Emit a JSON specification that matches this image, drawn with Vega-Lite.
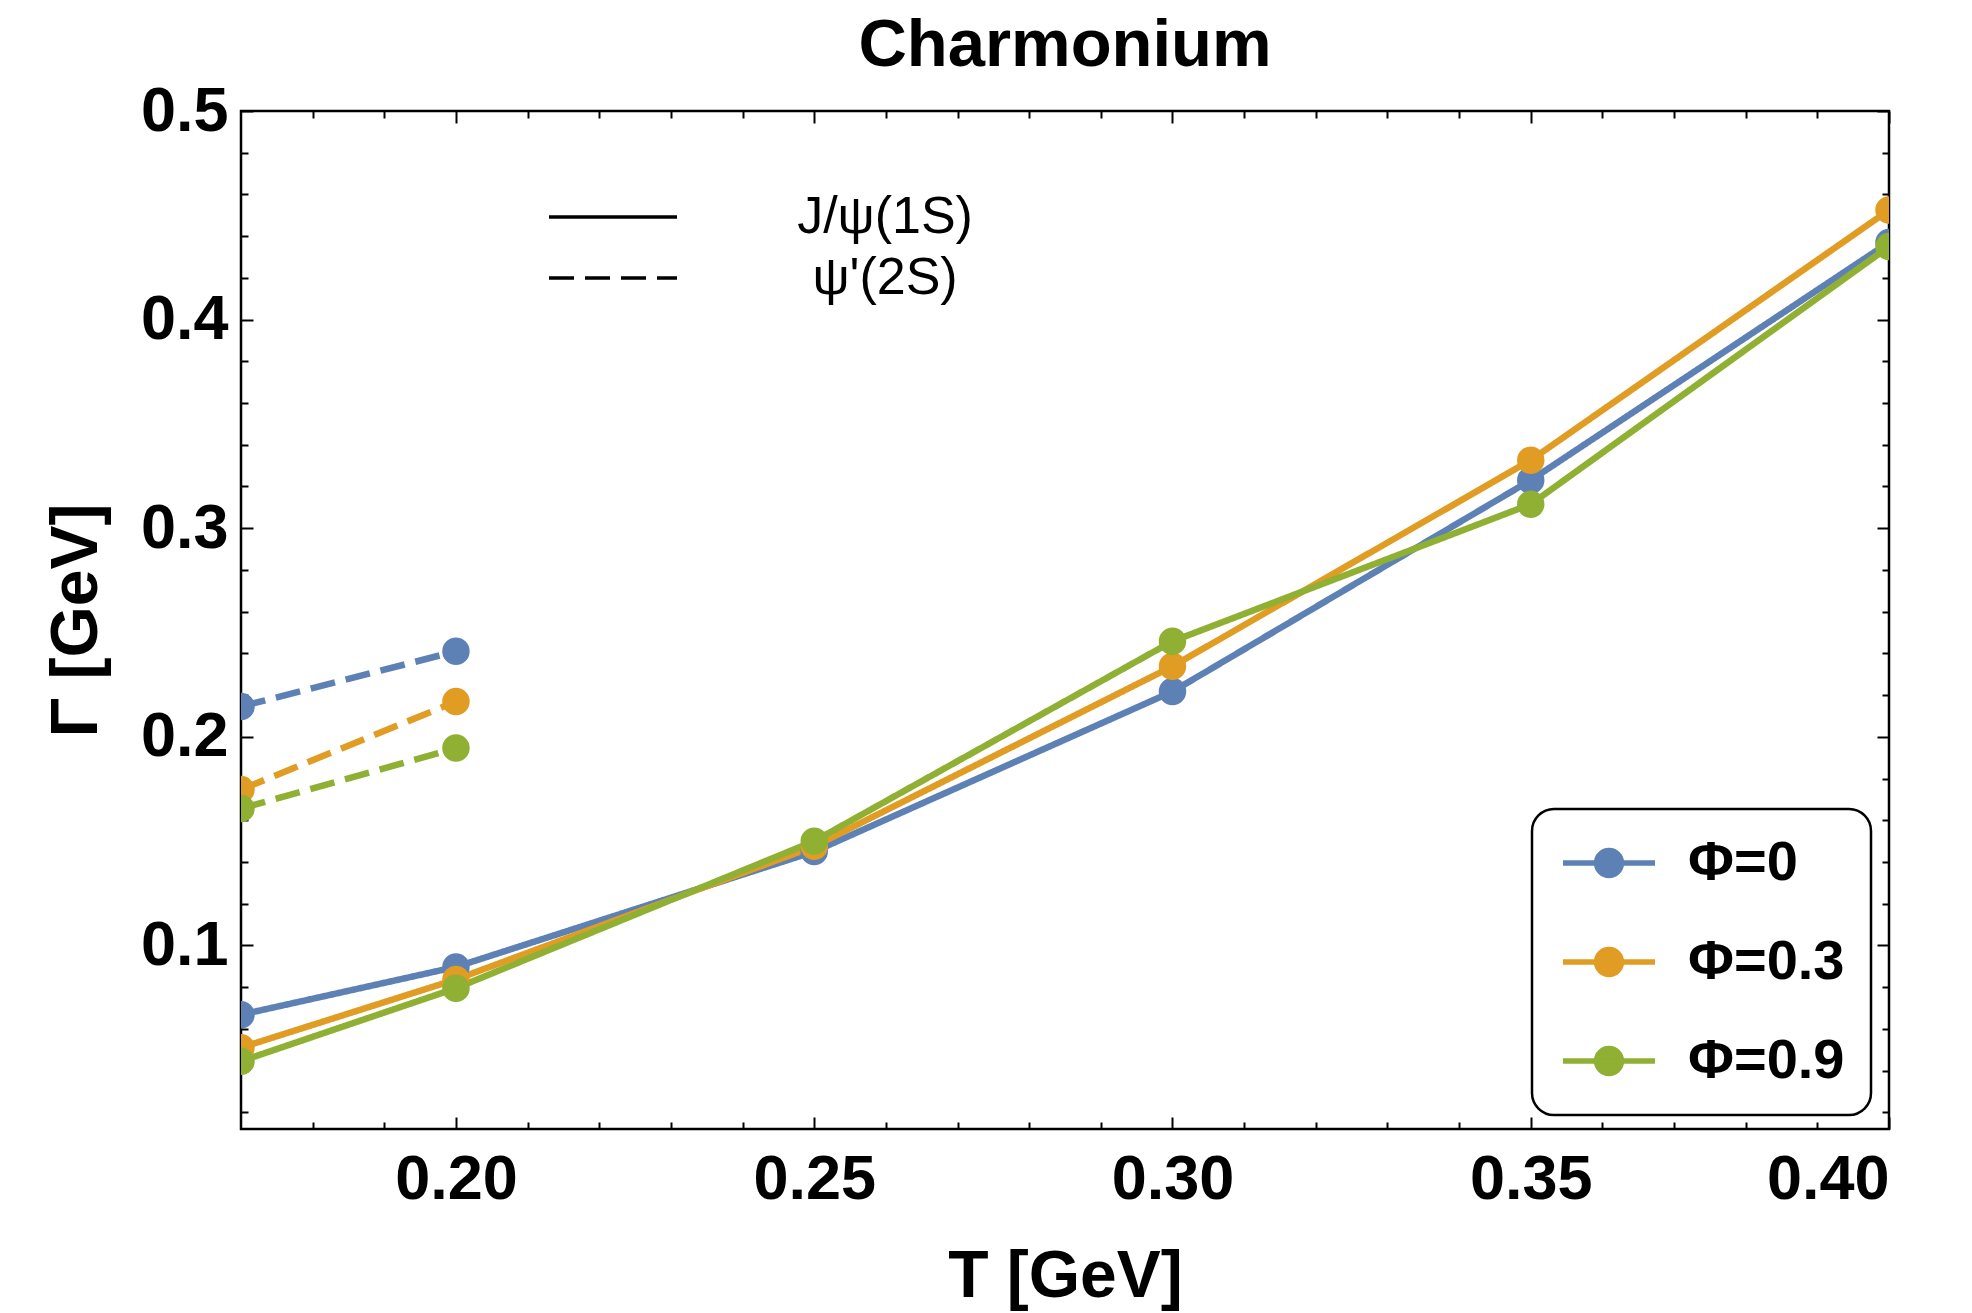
{
  "$schema": "https://vega.github.io/schema/vega-lite/v6.json",
  "width": 1648,
  "height": 1018,
  "autosize": {"type": "none"},
  "padding": {"left": 241, "top": 111, "right": 83, "bottom": 184},
  "background": "white",
  "title": {"text": "Charmonium", "fontSize": 67, "font": "Liberation Sans", "fontWeight": "bold", "anchor": "middle", "offset": 0, "color": "black"},
  "config": {
    "view": {"stroke": "black", "strokeWidth": 2.5},
    "axis": {"domain": false, "grid": false, "tickColor": "black", "tickWidth": 2, "labelColor": "black", "titleColor": "black", "labelFont": "Liberation Sans", "labelFontWeight": "bold", "labelFontSize": 63, "titleFont": "Liberation Sans", "titleFontWeight": "bold", "titleFontSize": 66}
  },
  "data": {"values": [
    {"T": 0.17, "G": 0.0668, "phi": "Φ=0", "state": "J/ψ(1S)"},
    {"T": 0.20, "G": 0.0897, "phi": "Φ=0", "state": "J/ψ(1S)"},
    {"T": 0.25, "G": 0.145, "phi": "Φ=0", "state": "J/ψ(1S)"},
    {"T": 0.30, "G": 0.2217, "phi": "Φ=0", "state": "J/ψ(1S)"},
    {"T": 0.35, "G": 0.323, "phi": "Φ=0", "state": "J/ψ(1S)"},
    {"T": 0.40, "G": 0.437, "phi": "Φ=0", "state": "J/ψ(1S)"},
    {"T": 0.17, "G": 0.051, "phi": "Φ=0.3", "state": "J/ψ(1S)"},
    {"T": 0.20, "G": 0.0837, "phi": "Φ=0.3", "state": "J/ψ(1S)"},
    {"T": 0.25, "G": 0.1475, "phi": "Φ=0.3", "state": "J/ψ(1S)"},
    {"T": 0.30, "G": 0.2338, "phi": "Φ=0.3", "state": "J/ψ(1S)"},
    {"T": 0.35, "G": 0.3326, "phi": "Φ=0.3", "state": "J/ψ(1S)"},
    {"T": 0.40, "G": 0.4525, "phi": "Φ=0.3", "state": "J/ψ(1S)"},
    {"T": 0.17, "G": 0.0445, "phi": "Φ=0.9", "state": "J/ψ(1S)"},
    {"T": 0.20, "G": 0.0795, "phi": "Φ=0.9", "state": "J/ψ(1S)"},
    {"T": 0.25, "G": 0.150, "phi": "Φ=0.9", "state": "J/ψ(1S)"},
    {"T": 0.30, "G": 0.2458, "phi": "Φ=0.9", "state": "J/ψ(1S)"},
    {"T": 0.35, "G": 0.3115, "phi": "Φ=0.9", "state": "J/ψ(1S)"},
    {"T": 0.40, "G": 0.435, "phi": "Φ=0.9", "state": "J/ψ(1S)"},
    {"T": 0.17, "G": 0.2145, "phi": "Φ=0", "state": "ψ'(2S)"},
    {"T": 0.20, "G": 0.241, "phi": "Φ=0", "state": "ψ'(2S)"},
    {"T": 0.17, "G": 0.1747, "phi": "Φ=0.3", "state": "ψ'(2S)"},
    {"T": 0.20, "G": 0.2169, "phi": "Φ=0.3", "state": "ψ'(2S)"},
    {"T": 0.17, "G": 0.1656, "phi": "Φ=0.9", "state": "ψ'(2S)"},
    {"T": 0.20, "G": 0.1946, "phi": "Φ=0.9", "state": "ψ'(2S)"}
  ]},
  "encoding": {
    "color": {
      "field": "phi", "type": "nominal",
      "scale": {"domain": ["Φ=0", "Φ=0.3", "Φ=0.9"], "range": ["#5E81B5", "#E19C24", "#8FB032"]},
      "legend": {
        "title": null, "orient": "none", "legendX": 1291, "legendY": 698, "direction": "vertical",
        "fillColor": "white", "strokeColor": "black", "cornerRadius": 22, "padding": 26,
        "labelFont": "Liberation Sans", "labelFontWeight": "bold", "labelFontSize": 56, "labelColor": "black",
        "labelOffset": 51, "rowPadding": 43, "symbolOffset": 23,
        "symbolType": "M-2,0H2M0.54,0A0.54,0.54,0,1,1,-0.54,0A0.54,0.54,0,1,1,0.54,0Z",
        "symbolSize": 2116, "symbolStrokeWidth": 5.5, "symbolOpacity": 1,
        "encode": {
          "legend": {"update": {"strokeWidth": {"value": 2.5}}},
          "symbols": {"update": {"fill": {"scale": "color", "field": "value"}, "stroke": {"scale": "color", "field": "value"}}}
        }
      }
    }
  },
  "resolve": {"axis": {"x": "independent", "y": "independent"}},
  "layer": [
    {
      "transform": [{"filter": {"field": "state", "equal": "J/ψ(1S)"}}],
      "mark": {"type": "line", "strokeWidth": 6.5, "clip": true},
      "encoding": {
        "x": {"field": "T", "type": "quantitative", "scale": {"domain": [0.17, 0.40], "nice": false, "zero": false},
              "axis": {"orient": "bottom", "values": [0.20, 0.25, 0.30, 0.35, 0.40], "format": ".2f", "tickSize": -12, "labelPadding": 31, "title": "T [GeV]", "titlePadding": 33}},
        "y": {"field": "G", "type": "quantitative", "scale": {"domain": [0.012, 0.5], "nice": false, "zero": false},
              "axis": {"orient": "left", "values": [0.1, 0.2, 0.3, 0.4, 0.5], "format": ".1f", "tickSize": -12, "labelPadding": 25, "title": "Γ [GeV]", "titlePadding": 30}},
        "strokeDash": {"field": "state", "type": "nominal",
          "scale": {"domain": ["J/ψ(1S)", "ψ'(2S)"], "range": [[1, 0], [25, 11]]},
          "legend": {"title": null, "orient": "none", "legendX": 346, "legendY": 80, "padding": 0,
            "labelFont": "Liberation Sans", "labelFontSize": 52, "labelColor": "black", "labelAlign": "center",
            "labelOffset": 246, "rowPadding": 9, "symbolType": "M-4,0H4", "symbolSize": 1024,
            "symbolStrokeColor": "black", "symbolStrokeWidth": 3.5, "symbolFillColor": "transparent", "labelLimit": 0}}
      }
    },
    {
      "transform": [{"filter": {"field": "state", "equal": "ψ'(2S)"}}],
      "mark": {"type": "line", "strokeWidth": 6.5, "clip": true},
      "encoding": {
        "x": {"field": "T", "type": "quantitative", "scale": {"domain": [0.17, 0.40], "nice": false, "zero": false},
              "axis": {"orient": "top", "values": [0.20, 0.25, 0.30, 0.35, 0.40], "tickSize": -12, "labels": false, "title": null}},
        "y": {"field": "G", "type": "quantitative", "scale": {"domain": [0.012, 0.5], "nice": false, "zero": false},
              "axis": {"orient": "right", "values": [0.1, 0.2, 0.3, 0.4, 0.5], "tickSize": -12, "labels": false, "title": null}},
        "strokeDash": {"field": "state", "type": "nominal",
          "scale": {"domain": ["J/ψ(1S)", "ψ'(2S)"], "range": [[1, 0], [25, 11]]},
          "legend": {"title": null, "orient": "none", "legendX": 346, "legendY": 80, "padding": 0,
            "labelFont": "Liberation Sans", "labelFontSize": 52, "labelColor": "black", "labelAlign": "center",
            "labelOffset": 246, "rowPadding": 9, "symbolType": "M-4,0H4", "symbolSize": 1024,
            "symbolStrokeColor": "black", "symbolStrokeWidth": 3.5, "symbolFillColor": "transparent", "labelLimit": 0}}
      }
    },
    {
      "transform": [{"filter": {"field": "state", "equal": "J/ψ(1S)"}}],
      "mark": {"type": "point", "filled": true, "size": 755, "opacity": 1, "clip": true},
      "encoding": {
        "x": {"field": "T", "type": "quantitative", "scale": {"domain": [0.17, 0.40], "nice": false, "zero": false},
              "axis": {"orient": "bottom", "values": [0.18, 0.19, 0.21, 0.22, 0.23, 0.24, 0.26, 0.27, 0.28, 0.29, 0.31, 0.32, 0.33, 0.34, 0.36, 0.37, 0.38, 0.39], "tickSize": -7, "labels": false, "title": null}},
        "y": {"field": "G", "type": "quantitative", "scale": {"domain": [0.012, 0.5], "nice": false, "zero": false},
              "axis": {"orient": "left", "values": [0.02, 0.04, 0.06, 0.08, 0.12, 0.14, 0.16, 0.18, 0.22, 0.24, 0.26, 0.28, 0.32, 0.34, 0.36, 0.38, 0.42, 0.44, 0.46, 0.48], "tickSize": -7, "labels": false, "title": null}}
      }
    },
    {
      "transform": [{"filter": {"field": "state", "equal": "ψ'(2S)"}}],
      "mark": {"type": "point", "filled": true, "size": 755, "opacity": 1, "clip": true},
      "encoding": {
        "x": {"field": "T", "type": "quantitative", "scale": {"domain": [0.17, 0.40], "nice": false, "zero": false},
              "axis": {"orient": "top", "values": [0.18, 0.19, 0.21, 0.22, 0.23, 0.24, 0.26, 0.27, 0.28, 0.29, 0.31, 0.32, 0.33, 0.34, 0.36, 0.37, 0.38, 0.39], "tickSize": -7, "labels": false, "title": null}},
        "y": {"field": "G", "type": "quantitative", "scale": {"domain": [0.012, 0.5], "nice": false, "zero": false},
              "axis": {"orient": "right", "values": [0.02, 0.04, 0.06, 0.08, 0.12, 0.14, 0.16, 0.18, 0.22, 0.24, 0.26, 0.28, 0.32, 0.34, 0.36, 0.38, 0.42, 0.44, 0.46, 0.48], "tickSize": -7, "labels": false, "title": null}}
      }
    }
  ]
}
